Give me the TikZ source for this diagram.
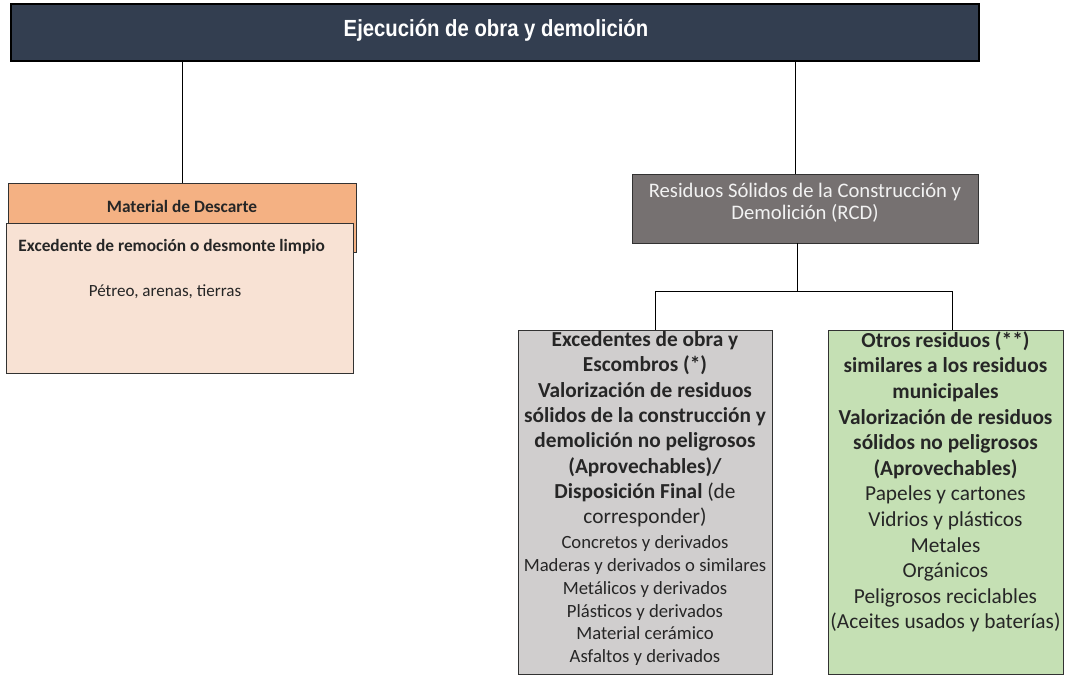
\documentclass[tikz,border=0pt]{standalone}
\usepackage{fontspec}
\setmainfont{Carlito}
\newfontfamily\titlefont{Liberation Sans}
\usetikzlibrary{positioning}

\definecolor{titlefill}{RGB}{51,62,80}
\definecolor{descfill}{RGB}{244,177,131}
\definecolor{limpfill}{RGB}{248,226,212}
\definecolor{rcdfill}{RGB}{118,113,113}
\definecolor{escfill}{RGB}{208,206,206}
\definecolor{otrosfill}{RGB}{197,224,180}
\definecolor{txtdark}{RGB}{38,38,38}

\tikzset{every picture/.style={line width=0.75pt}}
\tikzset{
  box/.style={draw={rgb,255:red,50;green,50;blue,50}, inner sep=0pt, outer sep=0pt},
  boxtext/.style={text=txtdark, align=center, inner sep=0pt},
}

\begin{document}
\begin{tikzpicture}[x=0.75pt,y=0.75pt,yscale=-1,xscale=1]
\useasboundingbox (0,0) rectangle (1065,676);

%Shape: Rectangle [title]
\node [box, draw=black, line width=1pt, fill=titlefill, minimum width=726pt, minimum height=42.75pt] (title) at (495,32.5) {};

%Shape: Rectangle [descarte]
\node [box, fill=descfill, minimum width=261pt, minimum height=51.75pt] (descarte) at (182,217.5) {};
%Shape: Rectangle [limpio]
\node [box, fill=limpfill, minimum width=260.25pt, minimum height=112.5pt] (limpio) at (179.5,298) {};

%Shape: Rectangle [rcd]
\node [box, fill=rcdfill, minimum width=259.5pt, minimum height=51.75pt] (rcd) at (805,208.5) {};

%Shape: Rectangle [escombros]
\node [box, fill=escfill, minimum width=190.5pt, minimum height=258pt] (escombros) at (645,502) {};
%Shape: Rectangle [otros]
\node [box, fill=otrosfill, minimum width=176.25pt, minimum height=258pt] (otros) at (945.5,502) {};

%Straight Lines
\draw (title.south -| descarte.north) -- (descarte.north) ;
\draw ([xshift=-7.5pt]rcd.north |- title.south) -- ([xshift=-7.5pt]rcd.north) ;
\coordinate (split) at (797,291) ;
\draw ([xshift=-6pt]rcd.south) -- (split) ;
\draw ([xshift=7.5pt]escombros.north) |- ([xshift=5.6pt]otros.north |- split) -- ([xshift=5.6pt]otros.north) ;

% Text Node
\node [anchor=base, inner sep=0pt, text=white, font=\titlefont\bfseries\fontsize{17.5}{20}\selectfont] (titletxt) at (496,36)
  {\scalebox{0.87}[1]{Ejecuci\'on de obra y demolici\'on}};
% Text Node
\node [boxtext, font=\bfseries\fontsize{13}{15}\selectfont] (descartetxt) at (182,206.5) {Material de Descarte};
% Text Node
\node [boxtext, anchor=west, font=\bfseries\fontsize{13}{15}\selectfont] (limpiotxt) at (18,247) {Excedente de remoci\'on o desmonte limpio};
% Text Node
\node [boxtext, font=\fontsize{12.8}{15}\selectfont] (petreo) at (165,292) {P\'etreo, arenas, tierras};
% Text Node
\node [boxtext, text={rgb,255:red,242;green,242;blue,242}, font=\fontsize{15.5}{16.2}\selectfont] (rcdtxt) at (805,202.5)
  {Residuos S\'olidos de la Construcci\'on y\\Demolici\'on (RCD)};
% Text Node
\node [boxtext, anchor=north, font=\fontsize{16}{19}\selectfont] (escombrostxt) at (645,331)
  {\textbf{Excedentes de obra y}\\\textbf{Escombros (*)}\\\textbf{Valorizaci\'on de residuos}\\\textbf{s\'olidos de la construcci\'on y}\\\textbf{demolici\'on no peligrosos}\\\textbf{(Aprovechables)/}\\\textbf{Disposici\'on Final} (de\\corresponder)};
% Text Node
\node [boxtext, below=5.6pt of escombrostxt, font=\fontsize{14}{17.1}\selectfont] (listatxt)
  {Concretos y derivados\\Maderas y derivados o similares\\Met\'alicos y derivados\\Pl\'asticos y derivados\\Material cer\'amico\\Asfaltos y derivados};
% Text Node
\node [boxtext, anchor=north, font=\fontsize{16}{19.2}\selectfont] (otrostxt) at (945.5,331)
  {\textbf{Otros residuos (**)}\\\textbf{similares a los residuos}\\\textbf{municipales}\\\textbf{Valorizaci\'on de residuos}\\\textbf{s\'olidos no peligrosos}\\\textbf{(Aprovechables)}\\Papeles y cartones\\Vidrios y pl\'asticos\\Metales\\Org\'anicos\\Peligrosos reciclables\\(Aceites usados y bater\'ias)};

\end{tikzpicture}
\end{document}
